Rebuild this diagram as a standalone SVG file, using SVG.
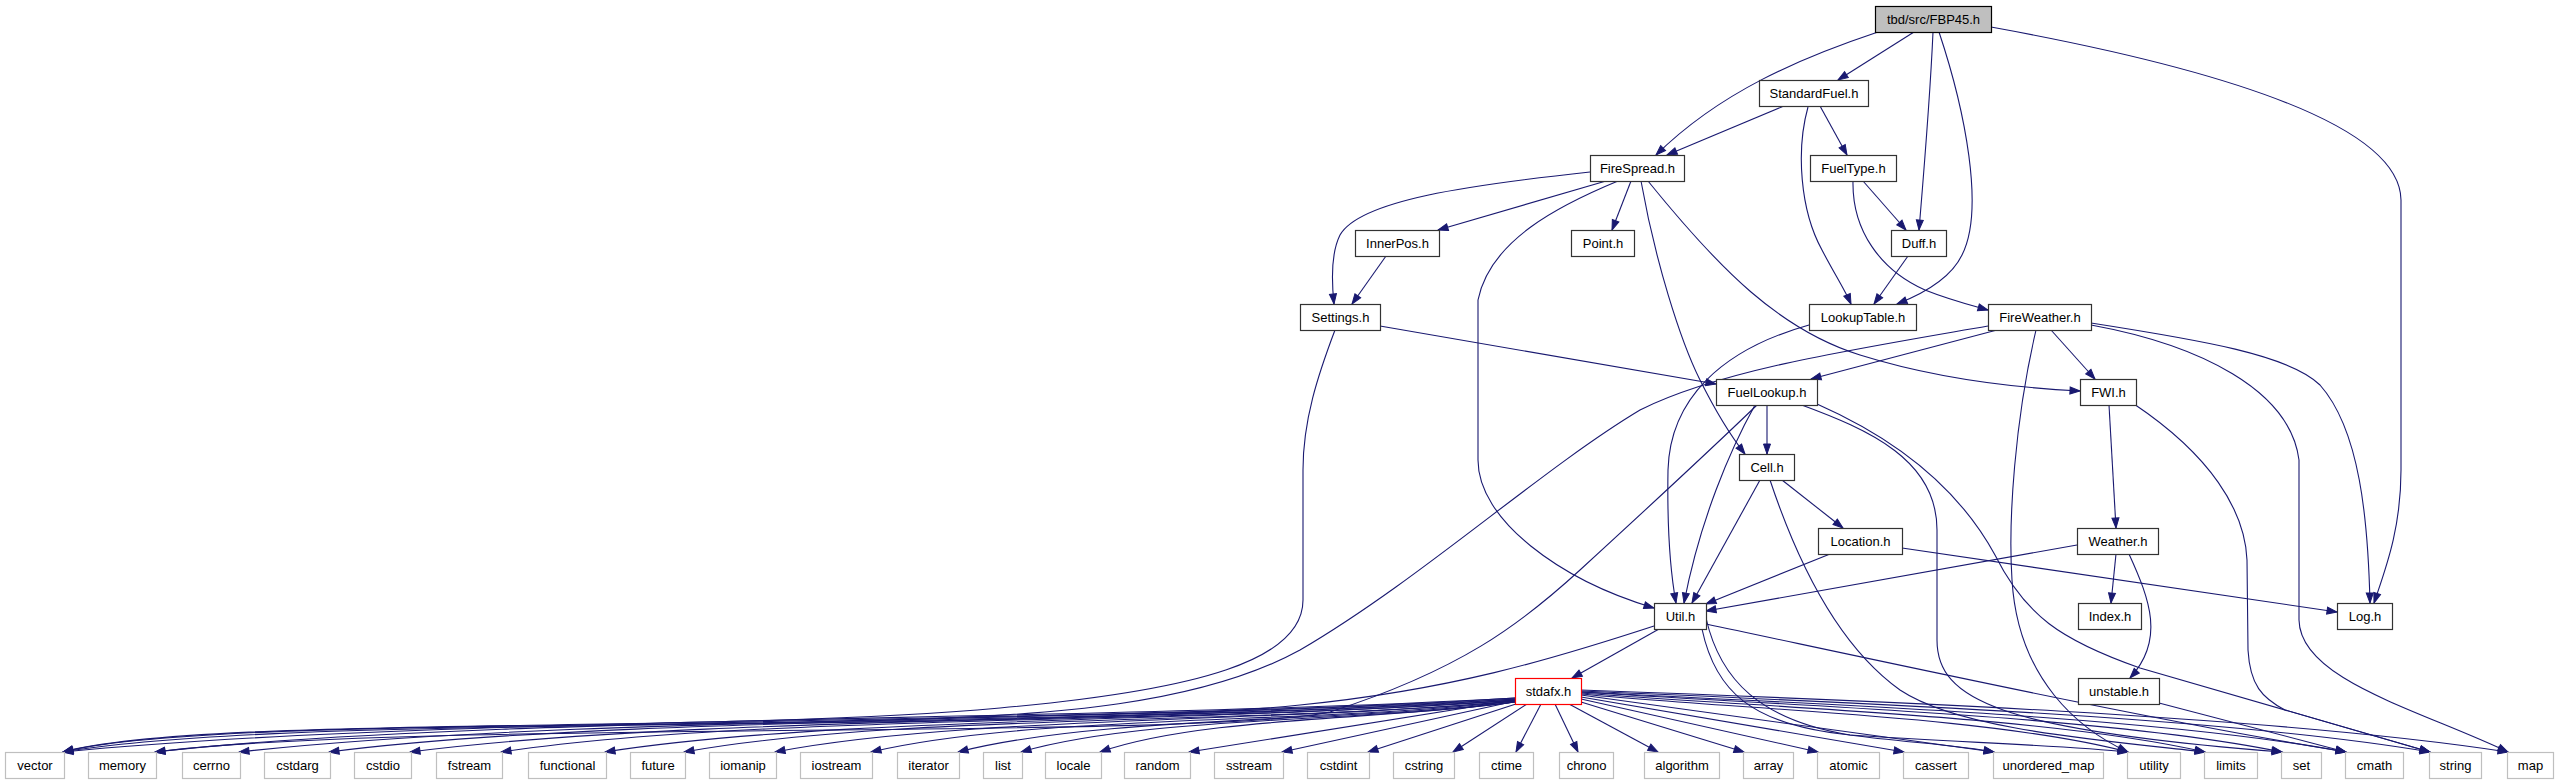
<svg xmlns="http://www.w3.org/2000/svg" width="2559" height="784" viewBox="0 0 2559 784">
<style>
.n rect{fill:#fff;stroke:#333;stroke-width:1.2}
.leaf rect{stroke:#bfbfbf}
.root rect{fill:#bfbfbf;stroke:#000}
.trunc rect{stroke:#ff0000}
text{font-family:"Liberation Sans",Arial,sans-serif;font-size:13px;text-anchor:middle;fill:#000}
#edges path{fill:none;stroke:#191970;stroke-width:1.1;marker-end:url(#ah)}
</style>
<defs>
<marker id="ah" markerUnits="userSpaceOnUse" markerWidth="12" markerHeight="9" refX="10" refY="3.5" orient="auto" overflow="visible"><path d="M0,0 L10,3.5 L0,7 z" fill="#191970" stroke="#191970" stroke-width="1"/></marker>
</defs>
<rect width="2559" height="784" fill="#fff"/>
<g id="edges">
<path d="M1878,32 C1800,58 1720,92 1656,155"/>
<path d="M1914,32 L1838,80"/>
<path d="M1933,32 C1930,100 1924,170 1919,230"/>
<path d="M1939,32 C1965,110 1985,210 1962,255 C1950,280 1920,295 1897,304"/>
<path d="M1991,27 C2200,65 2400,120 2401,200 L2401,470 C2401,530 2385,570 2374,603"/>
<path d="M1784,106 L1667,155"/>
<path d="M1820,106 L1847,155"/>
<path d="M1808,107 C1796,150 1800,210 1822,250 C1835,275 1845,290 1851,304"/>
<path d="M1863,181 L1906,230"/>
<path d="M1853,181 C1852,230 1880,270 1925,290 C1950,300 1970,305 1988,310"/>
<path d="M1908,256 L1874,304"/>
<path d="M1590,172 C1470,185 1360,200 1340,235 C1330,255 1332,285 1334,304"/>
<path d="M1606,181 L1438,230"/>
<path d="M1631,181 L1612,230"/>
<path d="M1618,181 C1560,205 1490,240 1478,300 L1478,460 C1478,520 1560,580 1654,608"/>
<path d="M1641,181 C1655,260 1680,340 1700,380 C1715,410 1730,435 1745,454"/>
<path d="M1648,181 C1720,270 1780,330 1860,355 C1940,380 2020,388 2080,391"/>
<path d="M1386,256 L1352,304"/>
<path d="M1380,326 L1716,384"/>
<path d="M1335,330 C1318,375 1303,420 1303,470 L1303,600 C1303,660 1200,690 1000,708 C700,735 200,715 63,752"/>
<path d="M1809,325 C1720,350 1670,400 1668,470 C1667,530 1670,570 1676,603"/>
<path d="M1997,330 L1811,379"/>
<path d="M2051,330 L2095,379"/>
<path d="M2091,323 C2200,340 2290,355 2320,385 C2360,430 2368,520 2370,603"/>
<path d="M2091,325 C2200,345 2290,390 2299,460 L2299,620 C2300,680 2420,710 2508,752"/>
<path d="M1988,326 C1850,350 1720,370 1640,410 C1540,470 1420,580 1300,650 C1200,705 1050,715 900,720 C600,728 180,722 63,752"/>
<path d="M2036,330 C2015,420 2008,520 2012,580 C2018,680 2080,730 2128,752"/>
<path d="M1767,405 L1767,454"/>
<path d="M1755,405 C1730,450 1700,520 1684,603"/>
<path d="M1757,405 C1700,460 1640,515 1580,570 C1520,625 1460,670 1330,712 C1200,740 400,720 155,752"/>
<path d="M1799,404 C1870,430 1937,460 1937,530 L1937,640 C1937,700 2000,730 2282,752"/>
<path d="M1817,404 C1910,445 1965,500 1995,555 C2025,615 2060,640 2140,668 L2430,752"/>
<path d="M1782,480 L1843,528"/>
<path d="M1760,480 L1692,603"/>
<path d="M1770,480 C1790,540 1830,640 1900,690 C1960,730 2100,740 2205,752"/>
<path d="M1830,554 L1706,604"/>
<path d="M1902,548 L2337,612"/>
<path d="M2109,405 L2116,528"/>
<path d="M2134,404 C2210,455 2245,510 2247,560 L2248,650 C2250,685 2262,698 2285,710 L2430,752"/>
<path d="M2077,545 L1706,611"/>
<path d="M2116,554 L2111,603"/>
<path d="M2129,554 C2150,600 2165,640 2130,678"/>
<path d="M2159,703 L2346,752"/>
<path d="M1654,626 C1550,660 1450,690 1300,705 C1000,735 300,712 63,752"/>
<path d="M1659,629 L1572,678"/>
<path d="M1706,624 C1900,665 2150,720 2346,752"/>
<path d="M1706,618 C1720,680 1760,720 1850,735 C1900,742 1960,745 1994,752"/>
<path d="M1702,629 C1715,690 1750,725 1850,735 C1950,742 2060,745 2128,752"/>
<path d="M1515,698 C1079,722 426,716 63,752"/>
<path d="M1515,698 C1107,724 495,714 155,752"/>
<path d="M1515,699 C1132,722 558,716 239,752"/>
<path d="M1515,699 C1159,724 625,714 329,752"/>
<path d="M1515,700 C1183,722 686,716 410,752"/>
<path d="M1515,700 C1211,724 754,714 501,752"/>
<path d="M1515,700 C1242,722 832,716 605,752"/>
<path d="M1515,701 C1266,724 892,714 684,752"/>
<path d="M1515,701 C1293,722 960,716 775,752"/>
<path d="M1515,701 C1322,724 1032,714 871,752"/>
<path d="M1515,702 C1348,722 1097,716 958,752"/>
<path d="M1515,702 C1367,722 1144,716 1021,752"/>
<path d="M1515,702 C1390,720 1204,716 1100,752"/>
<path d="M1515,700 L1189,752"/>
<path d="M1516,701 L1282,752"/>
<path d="M1519,703 L1368,752"/>
<path d="M1527,704 L1453,752"/>
<path d="M1541,704 L1516,752"/>
<path d="M1555,704 L1578,752"/>
<path d="M1569,704 L1658,752"/>
<path d="M1581,702 L1744,752"/>
<path d="M1581,699 L1818,752"/>
<path d="M1581,697 L1904,752"/>
<path d="M1581,695 L1994,752"/>
<path d="M1581,694 C1745,710 1991,716 2128,752"/>
<path d="M1581,693 C1768,708 2049,716 2205,752"/>
<path d="M1581,692 C1791,706 2107,716 2282,752"/>
<path d="M1581,692 C1811,704 2155,716 2346,752"/>
<path d="M1581,691 C1836,702 2218,716 2430,752"/>
<path d="M1581,690 C1859,700 2276,716 2508,752"/>
</g>
<g id="nodes" transform="translate(0.5,0.5)">
<g id="node_fbp45" class="n root"><rect x="1875" y="6" width="116" height="26"/><text x="1933" y="23.5">tbd/src/FBP45.h</text></g>
<g id="node_standardfuel" class="n"><rect x="1759" y="80" width="109" height="26"/><text x="1813.5" y="97.5">StandardFuel.h</text></g>
<g id="node_firespread" class="n"><rect x="1590" y="155" width="94" height="26"/><text x="1637" y="172.5">FireSpread.h</text></g>
<g id="node_fueltype" class="n"><rect x="1810" y="155" width="86" height="26"/><text x="1853" y="172.5">FuelType.h</text></g>
<g id="node_innerpos" class="n"><rect x="1355" y="230" width="84" height="26"/><text x="1397" y="247.5">InnerPos.h</text></g>
<g id="node_point" class="n"><rect x="1571" y="230" width="63" height="26"/><text x="1602.5" y="247.5">Point.h</text></g>
<g id="node_duff" class="n"><rect x="1891" y="230" width="55" height="26"/><text x="1918.5" y="247.5">Duff.h</text></g>
<g id="node_settings" class="n"><rect x="1300" y="304" width="80" height="26"/><text x="1340" y="321.5">Settings.h</text></g>
<g id="node_lookuptable" class="n"><rect x="1809" y="304" width="107" height="26"/><text x="1862.5" y="321.5">LookupTable.h</text></g>
<g id="node_fireweather" class="n"><rect x="1988" y="304" width="103" height="26"/><text x="2039.5" y="321.5">FireWeather.h</text></g>
<g id="node_fuellookup" class="n"><rect x="1716" y="379" width="101" height="26"/><text x="1766.5" y="396.5">FuelLookup.h</text></g>
<g id="node_fwi" class="n"><rect x="2080" y="379" width="56" height="26"/><text x="2108" y="396.5">FWI.h</text></g>
<g id="node_cell" class="n"><rect x="1739" y="454" width="55" height="26"/><text x="1766.5" y="471.5">Cell.h</text></g>
<g id="node_location" class="n"><rect x="1818" y="528" width="84" height="26"/><text x="1860" y="545.5">Location.h</text></g>
<g id="node_weather" class="n"><rect x="2077" y="528" width="81" height="26"/><text x="2117.5" y="545.5">Weather.h</text></g>
<g id="node_util" class="n"><rect x="1654" y="603" width="52" height="26"/><text x="1680" y="620.5">Util.h</text></g>
<g id="node_index" class="n"><rect x="2078" y="603" width="63" height="26"/><text x="2109.5" y="620.5">Index.h</text></g>
<g id="node_log" class="n"><rect x="2337" y="603" width="55" height="26"/><text x="2364.5" y="620.5">Log.h</text></g>
<g id="node_stdafx" class="n trunc"><rect x="1515" y="678" width="66" height="26"/><text x="1548" y="695.5">stdafx.h</text></g>
<g id="node_unstable" class="n"><rect x="2078" y="678" width="81" height="26"/><text x="2118.5" y="695.5">unstable.h</text></g>
<g id="node_vector" class="n leaf"><rect x="5" y="752" width="59" height="26"/><text x="34.5" y="769.5">vector</text></g>
<g id="node_memory" class="n leaf"><rect x="88" y="752" width="68" height="26"/><text x="122" y="769.5">memory</text></g>
<g id="node_cerrno" class="n leaf"><rect x="182" y="752" width="58" height="26"/><text x="211" y="769.5">cerrno</text></g>
<g id="node_cstdarg" class="n leaf"><rect x="264" y="752" width="66" height="26"/><text x="297" y="769.5">cstdarg</text></g>
<g id="node_cstdio" class="n leaf"><rect x="354" y="752" width="57" height="26"/><text x="382.5" y="769.5">cstdio</text></g>
<g id="node_fstream" class="n leaf"><rect x="436" y="752" width="66" height="26"/><text x="469" y="769.5">fstream</text></g>
<g id="node_functional" class="n leaf"><rect x="528" y="752" width="78" height="26"/><text x="567" y="769.5">functional</text></g>
<g id="node_future" class="n leaf"><rect x="630" y="752" width="55" height="26"/><text x="657.5" y="769.5">future</text></g>
<g id="node_iomanip" class="n leaf"><rect x="709" y="752" width="67" height="26"/><text x="742.5" y="769.5">iomanip</text></g>
<g id="node_iostream" class="n leaf"><rect x="800" y="752" width="72" height="26"/><text x="836" y="769.5">iostream</text></g>
<g id="node_iterator" class="n leaf"><rect x="897" y="752" width="62" height="26"/><text x="928" y="769.5">iterator</text></g>
<g id="node_list" class="n leaf"><rect x="983" y="752" width="39" height="26"/><text x="1002.5" y="769.5">list</text></g>
<g id="node_locale" class="n leaf"><rect x="1045" y="752" width="56" height="26"/><text x="1073" y="769.5">locale</text></g>
<g id="node_random" class="n leaf"><rect x="1124" y="752" width="66" height="26"/><text x="1157" y="769.5">random</text></g>
<g id="node_sstream" class="n leaf"><rect x="1214" y="752" width="69" height="26"/><text x="1248.5" y="769.5">sstream</text></g>
<g id="node_cstdint" class="n leaf"><rect x="1307" y="752" width="62" height="26"/><text x="1338" y="769.5">cstdint</text></g>
<g id="node_cstring" class="n leaf"><rect x="1393" y="752" width="61" height="26"/><text x="1423.5" y="769.5">cstring</text></g>
<g id="node_ctime" class="n leaf"><rect x="1479" y="752" width="54" height="26"/><text x="1506" y="769.5">ctime</text></g>
<g id="node_chrono" class="n leaf"><rect x="1559" y="752" width="54" height="26"/><text x="1586" y="769.5">chrono</text></g>
<g id="node_algorithm" class="n leaf"><rect x="1644" y="752" width="75" height="26"/><text x="1681.5" y="769.5">algorithm</text></g>
<g id="node_array" class="n leaf"><rect x="1743" y="752" width="50" height="26"/><text x="1768" y="769.5">array</text></g>
<g id="node_atomic" class="n leaf"><rect x="1817" y="752" width="62" height="26"/><text x="1848" y="769.5">atomic</text></g>
<g id="node_cassert" class="n leaf"><rect x="1903" y="752" width="65" height="26"/><text x="1935.5" y="769.5">cassert</text></g>
<g id="node_unordered_map" class="n leaf"><rect x="1993" y="752" width="110" height="26"/><text x="2048" y="769.5">unordered_map</text></g>
<g id="node_utility" class="n leaf"><rect x="2127" y="752" width="53" height="26"/><text x="2153.5" y="769.5">utility</text></g>
<g id="node_limits" class="n leaf"><rect x="2204" y="752" width="53" height="26"/><text x="2230.5" y="769.5">limits</text></g>
<g id="node_set" class="n leaf"><rect x="2281" y="752" width="40" height="26"/><text x="2301" y="769.5">set</text></g>
<g id="node_cmath" class="n leaf"><rect x="2345" y="752" width="58" height="26"/><text x="2374" y="769.5">cmath</text></g>
<g id="node_string" class="n leaf"><rect x="2429" y="752" width="52" height="26"/><text x="2455" y="769.5">string</text></g>
<g id="node_map" class="n leaf"><rect x="2507" y="752" width="46" height="26"/><text x="2530" y="769.5">map</text></g>
</g>
</svg>
